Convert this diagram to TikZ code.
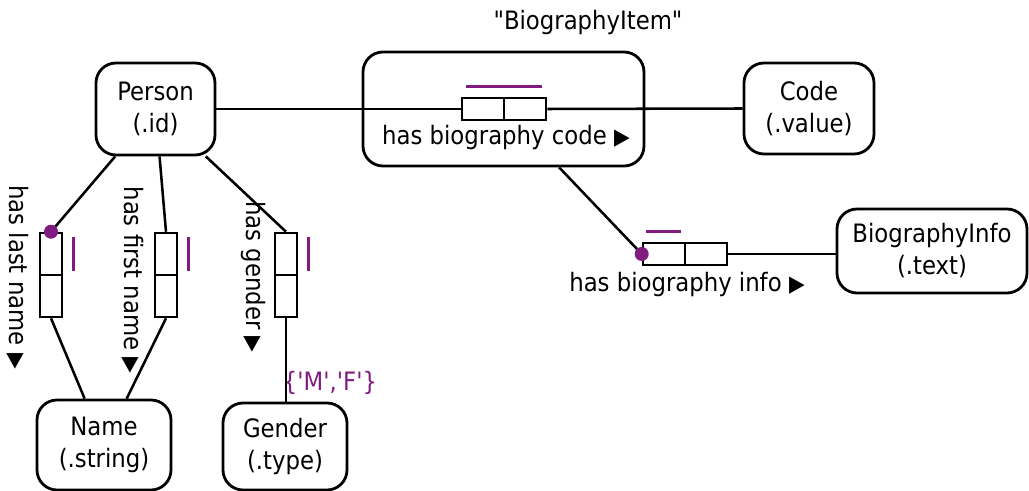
\documentclass[tikz,border=0pt]{standalone}
\usepackage{fontspec}
\setmainfont{DejaVu Sans Condensed}
\usetikzlibrary{calc}
\definecolor{ormpurple}{RGB}{128,28,128}
\newcommand{\rtri}{{\fontsize{17}{17}\selectfont ▶}}

\begin{document}
\begin{tikzpicture}[x=0.75pt,y=-0.75pt]
\tikzstyle{entity}=[rectangle,rounded corners=15pt,draw,line width=2.1pt,align=center,font=\fontsize{19}{24}\selectfont]
\tikzstyle{objfact}=[rectangle,rounded corners=15pt,draw,line width=2.1pt]
\tikzstyle{hcell}=[rectangle,draw,line width=1.9pt,minimum width=31.5pt,minimum height=16.5pt,inner sep=0pt]
\tikzstyle{vcell}=[rectangle,draw,line width=1.9pt,minimum width=16.5pt,minimum height=31.5pt,inner sep=0pt]
\tikzstyle{reading}=[font=\fontsize{19}{24}\selectfont,inner sep=0pt]
\tikzstyle{conn}=[line width=1.9pt]
\tikzstyle{uniq}=[draw=ormpurple,line width=2.5pt]
\tikzstyle{mand}=[fill=ormpurple]
\useasboundingbox (0,0) rectangle (1029,491);
\node [entity,minimum width=89.25pt,minimum height=69pt] (person) at (155.5,109) {Person\\(.id)};
\node [objfact,minimum width=210.75pt,minimum height=85.5pt] (item) at (503.5,109) {};
\node [reading] (itemname) at (588,23) {\textquotedbl BiographyItem\textquotedbl};
\node [entity,minimum width=97.5pt,minimum height=68.25pt] (code) at (809,108.5) {Code\\(.value)};
\node [entity,minimum width=142.5pt,minimum height=63pt] (bioinfo) at (932,251) {BiographyInfo\\(.text)};
\node [entity,minimum width=100.5pt,minimum height=67.5pt] (name) at (104,445) {Name\\(.string)};
\node [entity,minimum width=93pt,minimum height=65.25pt] (gender) at (285,446.5) {Gender\\(.type)};
\node [hcell] (bcA) at (483,109) {};
\node [hcell] (bcB) at (525,109) {};
\node [reading] (bclabel) at (506,138) {has biography code \rtri};
\node [hcell] (biA) at (664,254) {};
\node [hcell] (biB) at (706,254) {};
\node [reading] (bilabel) at (687,285) {has biography info \rtri};
\node [vcell] (lnA) at (51,254) {};
\node [vcell] (lnB) at (51,296) {};
\node [reading,rotate=-90] (lnlabel) at (18,277) {has last name \rtri};
\node [vcell] (fnA) at (166,254) {};
\node [vcell] (fnB) at (166,296) {};
\node [reading,rotate=-90] (fnlabel) at (133,280) {has first name \rtri};
\node [vcell] (gnA) at (286,254) {};
\node [vcell] (gnB) at (286,296) {};
\node [reading,rotate=-90] (gnlabel) at (253,277) {has gender \rtri};
\node [reading,text=ormpurple] (values) at (330,383) {\{\textquotesingle M\textquotesingle,\textquotesingle F\textquotesingle\}};
\draw [conn] (person.east) -- (bcA.west);
\draw [conn] (bcB.east) -- (code.west);
\draw [conn] (item) -- (biA.west);
\draw [conn] (biB.east) -- (biB.east -| bioinfo.west);
\draw [conn] (person) -- (lnA.north);
\draw [conn] (person) -- (fnA.north);
\draw [conn] (person) -- (gnA.north);
\draw [conn] (lnB.south) -- (name);
\draw [conn] (fnB.south) -- (name);
\draw [conn] (gnB.south) -- (gnB.south |- gender.north);
\draw [uniq] ($(bcA.north west)+(5,-10)$) -- ($(bcB.north east)+(-5,-10)$);
\draw [uniq] ($(biA.north west)+(4,-10)$) -- ($(biA.north east)+(-5,-10)$);
\draw [uniq] ($(lnA.north east)+(10,5)$) -- ($(lnA.south east)+(10,-5)$);
\draw [uniq] ($(fnA.north east)+(10,5)$) -- ($(fnA.south east)+(10,-5)$);
\draw [uniq] ($(gnA.north east)+(10,5)$) -- ($(gnA.south east)+(10,-5)$);
\fill [mand] (lnA.north) circle (5.25pt);
\fill [mand] (biA.west) circle (5.25pt);
\end{tikzpicture}
\end{document}
